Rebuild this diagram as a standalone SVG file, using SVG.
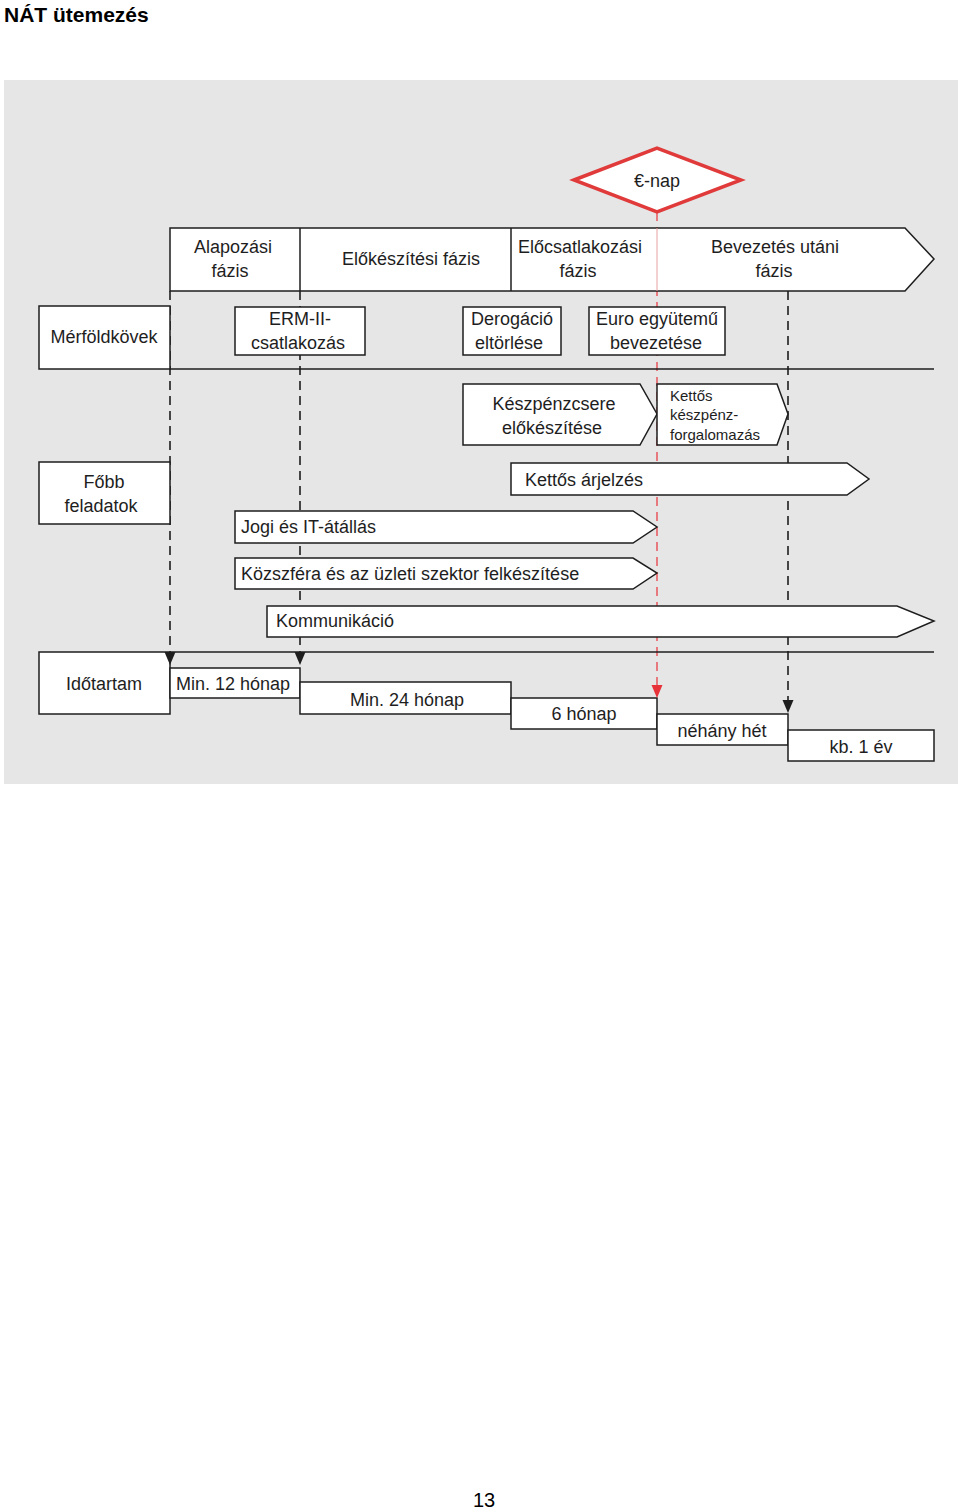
<svg xmlns="http://www.w3.org/2000/svg" width="960" height="1509" viewBox="0 0 960 1509">
<defs>
<style>
text{font-family:"Liberation Sans",Arial,sans-serif;fill:#1e1e1e;font-size:18px}
.c{text-anchor:middle}
.s{font-size:15px}
.b{fill:#fff;stroke:#1e1e1e;stroke-width:1.5}
.d{stroke:#1e1e1e;stroke-width:1.6;stroke-dasharray:9 6;fill:none}
.r{stroke:#e8323a;stroke-width:1.2;stroke-dasharray:9 6;fill:none}
.l{stroke:#1e1e1e;stroke-width:1.5;fill:none}
.ah{fill:#1e1e1e}
</style>
</defs>
<rect width="960" height="1509" fill="#fff"/>
<text x="4" y="22" style="font-weight:bold;font-size:21px;fill:#000">NÁT ütemezés</text>
<rect x="4" y="80" width="954" height="704" fill="#e6e6e6"/>

<g id="connectors">
<line class="d" x1="170" y1="291" x2="170" y2="654"/>
<line class="d" x1="300" y1="291" x2="300" y2="654"/>
<line class="r" x1="657" y1="212" x2="657" y2="686"/>
<line class="d" x1="788" y1="291" x2="788" y2="700"/>
<line class="l" x1="170" y1="369" x2="934" y2="369"/>
<line class="l" x1="170" y1="652" x2="934" y2="652"/>
</g>

<g id="enap">
<polygon points="574,180 657,148 741,180 657,212" fill="#fff" stroke="#e03a3a" stroke-width="3.5"/>
<text class="c" x="657" y="187">€-nap</text>
</g>

<g id="phases">
<polygon class="b" points="170,228 905,228 934,259 905,291 170,291"/>
<line class="l" x1="300" y1="228" x2="300" y2="291"/>
<line class="l" x1="511" y1="228" x2="511" y2="291"/>
<line x1="657" y1="228" x2="657" y2="291" stroke="#e8a0a0" stroke-width="1"/>
</g>
<g id="alapozasi"><text class="c" x="233" y="253">Alapozási</text><text class="c" x="230" y="277">fázis</text></g>
<g id="elokeszitesi"><text class="c" x="411" y="265">Előkészítési fázis</text></g>
<g id="elocsatlakozasi"><text class="c" x="580" y="253">Előcsatlakozási</text><text class="c" x="578" y="277">fázis</text></g>
<g id="bevezetes-utani"><text class="c" x="775" y="253">Bevezetés utáni</text><text class="c" x="774" y="277">fázis</text></g>

<g id="merfoldkovek"><rect class="b" x="39" y="306" width="131" height="63"/><text class="c" x="104" y="343">Mérföldkövek</text></g>
<g id="erm"><rect class="b" x="235" y="307" width="130" height="48"/><text class="c" x="300" y="325">ERM-II-</text><text class="c" x="298" y="349">csatlakozás</text></g>
<g id="derogacio"><rect class="b" x="463" y="307" width="98" height="48"/><text class="c" x="512" y="325">Derogáció</text><text class="c" x="509" y="349">eltörlése</text></g>
<g id="euro"><rect class="b" x="589" y="307" width="136" height="48"/><text class="c" x="657" y="325">Euro együtemű</text><text class="c" x="656" y="349">bevezetése</text></g>

<g id="keszpenzcsere"><polygon class="b" points="463,384 640,384 657,414 640,445 463,445"/><text class="c" x="554" y="410">Készpénzcsere</text><text class="c" x="552" y="434">előkészítése</text></g>
<g id="kettos-keszpenz"><polygon class="b" points="657,384 777,384 788,414 777,445 657,445"/><text class="s" x="670" y="401">Kettős</text><text class="s" x="670" y="420">készpénz-</text><text class="s" x="670" y="440">forgalomazás</text></g>

<g id="fobb"><rect class="b" x="39" y="462" width="131" height="62"/><text class="c" x="104" y="488">Főbb</text><text class="c" x="101" y="512">feladatok</text></g>
<g id="arjelzes"><polygon class="b" points="511,463 847,463 869,479 847,495 511,495"/><text x="525" y="486">Kettős árjelzés</text></g>
<g id="jogi"><polygon class="b" points="235,511 633,511 657,527 633,543 235,543"/><text x="241" y="533">Jogi és IT-átállás</text></g>
<g id="kozszfera"><polygon class="b" points="235,558 633,558 657,573 633,589 235,589"/><text x="241" y="580">Közszféra és az üzleti szektor felkészítése</text></g>
<g id="kommunikacio"><polygon class="b" points="267,606 897,606 934,621 897,637 267,637"/><text x="276" y="627">Kommunikáció</text></g>

<g id="idotartam"><rect class="b" x="39" y="652" width="131" height="62"/><text class="c" x="104" y="690">Időtartam</text></g>
<g id="min12"><rect class="b" x="170" y="668" width="130" height="30"/><text class="c" x="233" y="690">Min. 12 hónap</text></g>
<g id="min24"><rect class="b" x="300" y="682" width="211" height="32"/><text class="c" x="407" y="706">Min. 24 hónap</text></g>
<g id="h6"><rect class="b" x="511" y="698" width="146" height="31"/><text class="c" x="584" y="720">6 hónap</text></g>
<g id="nehany"><rect class="b" x="657" y="714" width="131" height="31"/><text class="c" x="722" y="737">néhány hét</text></g>
<g id="kb1"><rect class="b" x="788" y="730" width="146" height="31"/><text class="c" x="861" y="753">kb. 1 év</text></g>

<g id="arrowheads">
<path class="ah" d="M164.5,652 L175.5,652 L170,665 Z"/>
<path class="ah" d="M294.5,652 L305.5,652 L300,665 Z"/>
<path d="M651.5,685 L662.5,685 L657,698 Z" fill="#e8323a"/>
<path class="ah" d="M782.5,700 L793.5,700 L788,713 Z"/>
</g>

<text class="c" x="484" y="1507" style="font-size:20px;fill:#000">13</text>
</svg>
